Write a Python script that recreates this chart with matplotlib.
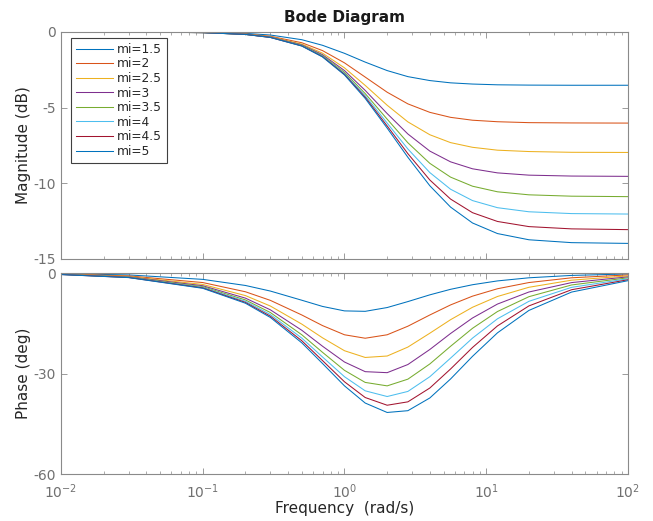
import matplotlib
matplotlib.use('Agg')
import matplotlib.pyplot as plt
from matplotlib.ticker import LogLocator, NullFormatter

plt.rcParams['font.family'] = ['DejaVu Sans']
plt.rcParams['axes.unicode_minus'] = False

freq = [0.01, 0.03, 0.1, 0.2, 0.3, 0.5, 0.7, 1, 1.4, 2, 2.8, 4, 5.6, 8, 12, 20, 40, 100]

labels = ['mi=1.5', 'mi=2', 'mi=2.5', 'mi=3', 'mi=3.5', 'mi=4', 'mi=4.5', 'mi=5']

mag_15 = [0.0, 0.0, -0.02, -0.09, -0.20, -0.51, -0.88, -1.41, -1.99, -2.55, -2.95, -3.21, -3.36, -3.44, -3.49, -3.51, -3.52, -3.52]
mag_2 = [0.0, 0.0, -0.03, -0.13, -0.28, -0.71, -1.23, -2.04, -2.98, -3.98, -4.75, -5.31, -5.64, -5.83, -5.93, -5.99, -6.01, -6.02]
mag_25 = [0.0, 0.0, -0.04, -0.14, -0.31, -0.80, -1.40, -2.37, -3.53, -4.84, -5.94, -6.79, -7.31, -7.62, -7.81, -7.90, -7.95, -7.96]
mag_3 = [0.0, 0.0, -0.04, -0.15, -0.33, -0.85, -1.50, -2.55, -3.86, -5.39, -6.74, -7.87, -8.58, -9.04, -9.31, -9.46, -9.52, -9.54]
mag_35 = [0.0, 0.0, -0.04, -0.16, -0.34, -0.88, -1.56, -2.67, -4.07, -5.76, -7.32, -8.68, -9.59, -10.19, -10.56, -10.76, -10.85, -10.88]
mag_4 = [0.0, 0.0, -0.04, -0.16, -0.35, -0.90, -1.60, -2.75, -4.21, -6.02, -7.73, -9.29, -10.39, -11.14, -11.61, -11.88, -12.00, -12.03]
mag_45 = [0.0, 0.0, -0.04, -0.16, -0.36, -0.92, -1.63, -2.80, -4.31, -6.21, -8.04, -9.78, -11.04, -11.94, -12.52, -12.86, -13.01, -13.06]
mag_5 = [0.0, 0.0, -0.04, -0.16, -0.36, -0.93, -1.65, -2.84, -4.39, -6.35, -8.28, -10.16, -11.57, -12.62, -13.32, -13.73, -13.92, -13.97]

ph_15 = [-0.19, -0.57, -1.90, -3.72, -5.39, -8.13, -9.98, -11.31, -11.44, -10.31, -8.53, -6.52, -4.87, -3.50, -2.36, -1.43, -0.72, -0.29]
ph_2 = [-0.29, -0.86, -2.85, -5.60, -8.17, -12.53, -15.70, -18.44, -19.47, -18.44, -15.88, -12.53, -9.53, -6.91, -4.70, -2.85, -1.43, -0.57]
ph_25 = [-0.34, -1.03, -3.42, -6.74, -9.86, -15.26, -19.35, -23.20, -25.21, -24.78, -22.11, -17.97, -13.94, -10.23, -7.01, -4.26, -2.14, -0.86]
ph_3 = [-0.38, -1.15, -3.80, -7.50, -10.99, -17.10, -21.86, -26.57, -29.45, -29.75, -27.32, -22.83, -18.06, -13.43, -9.27, -5.67, -2.86, -1.15]
ph_35 = [-0.41, -1.23, -4.07, -8.04, -11.80, -18.44, -23.68, -29.06, -32.66, -33.69, -31.69, -27.15, -21.88, -16.51, -11.50, -7.07, -3.57, -1.43]
ph_4 = [-0.43, -1.29, -4.28, -8.45, -12.41, -19.44, -25.07, -30.96, -35.17, -36.87, -35.35, -30.96, -25.41, -19.44, -13.67, -8.45, -4.28, -1.72]
ph_45 = [-0.45, -1.34, -4.44, -8.77, -12.89, -20.23, -26.15, -32.47, -37.17, -39.47, -38.46, -34.33, -28.66, -22.23, -15.79, -9.82, -4.99, -2.01]
ph_5 = [-0.46, -1.37, -4.57, -9.02, -13.27, -20.85, -27.02, -33.69, -38.82, -41.63, -41.10, -37.30, -31.64, -24.88, -17.86, -11.17, -5.69, -2.29]

mags = [mag_15, mag_2, mag_25, mag_3, mag_35, mag_4, mag_45, mag_5]
phases = [ph_15, ph_2, ph_25, ph_3, ph_35, ph_4, ph_45, ph_5]

# MATLAB default line colours (8th wraps around)
colors = ['#0072BD', '#D95319', '#EDB120', '#7E2F8E', '#77AC30', '#4DBEEE', '#A2142F', '#0072BD']

axis_gray = '#8a8a8a'
tick_gray = '#707070'
label_col = '#262626'

fig = plt.figure(figsize=(6.53, 5.21), dpi=100)
ax_mag = fig.add_axes([0.0934, 0.5029, 0.8683, 0.4357])
ax_ph = fig.add_axes([0.0934, 0.0902, 0.8683, 0.3858])

for i in range(len(labels)):
    ax_mag.plot(freq, mags[i], color=colors[i], lw=0.75, label=labels[i])
    ax_ph.plot(freq, phases[i], color=colors[i], lw=0.75)

for ax in [ax_mag, ax_ph]:
    ax.set_xscale('log')
    ax.set_xlim(0.01, 100)
    ax.xaxis.set_major_locator(LogLocator(base=10, numticks=10))
    ax.xaxis.set_minor_locator(LogLocator(base=10, subs=range(2, 10), numticks=20))
    ax.xaxis.set_minor_formatter(NullFormatter())
    ax.tick_params(which='both', direction='in', top=True, right=True,
                   color=axis_gray, labelcolor=tick_gray, labelsize=10)
    ax.tick_params(which='major', length=4, width=0.6)
    ax.tick_params(which='minor', length=2.5, width=0.5)
    ax.tick_params(axis='x', which='major', pad=6)
    for sp in ax.spines.values():
        sp.set_color(axis_gray)
        sp.set_linewidth(0.8)

ax_mag.set_ylim(-15, 0)
ax_mag.set_yticks([0, -5, -10, -15])
ax_mag.tick_params(axis='x', labelbottom=False)
ax_mag.set_ylabel('Magnitude (dB)', fontsize=11, color=label_col, labelpad=2)
ax_mag.set_title('Bode Diagram', fontsize=11, fontweight='bold', color='#1a1a1a', pad=7)

ax_ph.set_ylim(-60, 0)
ax_ph.set_yticks([0, -30, -60])
ax_ph.set_ylabel('Phase (deg)', fontsize=11, color=label_col, labelpad=2)
ax_ph.set_xlabel('Frequency  (rad/s)', fontsize=11, color=label_col, labelpad=0)

leg = ax_mag.legend(loc='upper left', bbox_to_anchor=(0.0176, 0.974), borderaxespad=0,
                    fontsize=8.8, handlelength=3.0, handletextpad=0.35,
                    labelspacing=0.13, borderpad=0.4, fancybox=False, framealpha=1)
leg.get_frame().set_edgecolor('#404040')
leg.get_frame().set_linewidth(0.8)
for t in leg.get_texts():
    t.set_color(label_col)

fig.savefig('out.png', dpi=100)
